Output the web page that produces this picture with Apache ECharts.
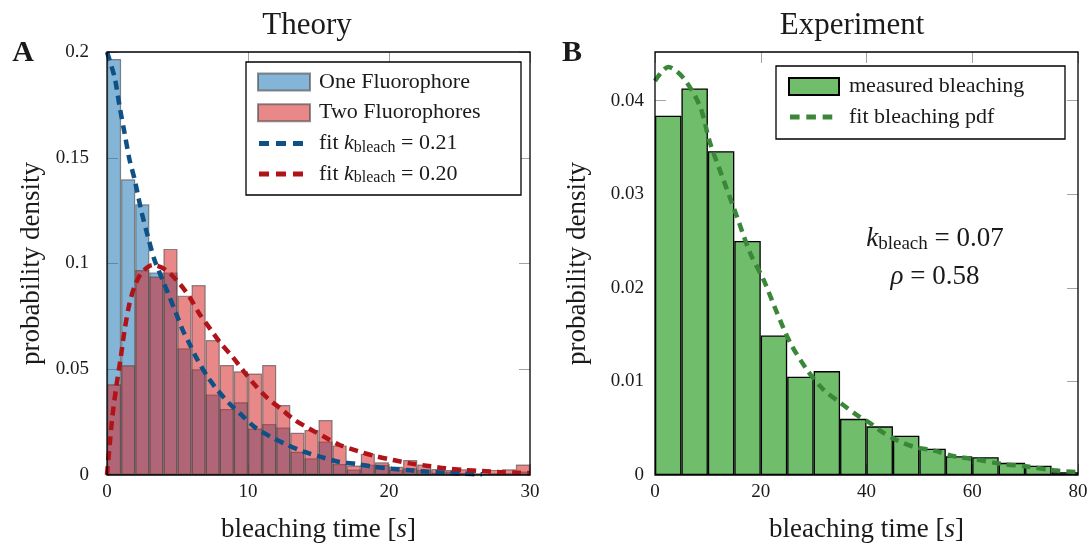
<!DOCTYPE html>
<html>
<head>
<meta charset="utf-8">
<script src="https://cdn.jsdelivr.net/npm/echarts@6/dist/echarts.min.js"></script>
<style>
  html, body { margin: 0; padding: 0; background: #fff; }
  #chart { width: 1091px; height: 543px; }
</style>
</head>
<body>
<div id="chart"></div>
<script>
const FONT = "'Liberation Serif', 'DejaVu Serif', serif";

// ---- Theory (panel A) ----
const theoryBins = ['0','1','2','3','4','5','6','7','8','9','10','11','12','13','14',
  '15','16','17','18','19','20','21','22','23','24','25','26','27','28','29'];
const oneFluor = [0.1967, 0.1398, 0.128, 0.0958, 0.0958, 0.0599, 0.050, 0.0381, 0.0312, 0.0344,
  0.022, 0.0241, 0.0224, 0.011, 0.0079, 0.0158, 0.0052, 0.0026, 0.0048, 0.0048,
  0.0024, 0.0032, 0.0024, 0.0011, 0.0016, 0.001, 0.0005, 0.0008, 0.0008, 0.0016];
const twoFluor = [0.0429, 0.0519, 0.0969, 0.0938, 0.1069, 0.0848, 0.0898, 0.0638, 0.052, 0.049,
  0.048, 0.052, 0.0331, 0.020, 0.0213, 0.026, 0.014, 0.0045, 0.0100, 0.006,
  0.0039, 0.0071, 0.005, 0.0028, 0.0024, 0.0027, 0.0008, 0.0024, 0.0027, 0.005];
const fitOne = [[0,0.2],[0.54,0.188],[0.9,0.174],[1.25,0.1615],[1.6,0.149],[1.95,0.140],
  [2.43,0.125],[2.9,0.1127],[3.37,0.1017],[3.96,0.092],[4.43,0.0843],[4.9,0.0764],
  [5.37,0.0685],[5.84,0.0622],[6.42,0.0544],[7.13,0.0465],[7.83,0.0402],[8.66,0.0339],
  [9.6,0.028],[10.5,0.0225],[11.6,0.0181],[12.8,0.0142],[13.95,0.011],[15.1,0.0087],
  [16.4,0.0063],[17.7,0.0052],[18.9,0.0039],[20.2,0.003],[21.5,0.0022],[22.7,0.0016],
  [24.0,0.0011],[25.3,0.0006],[26.6,0.0003]];
const fitTwo = [[0,0],[0.19,0.0142],[0.38,0.0276],[0.66,0.0418],[0.95,0.0544],[1.25,0.0686],
  [1.6,0.0812],[1.95,0.089],[2.43,0.0954],[3.25,0.0993],[4.19,0.0969],[5.13,0.0906],
  [5.84,0.0843],[6.54,0.0764],[7.37,0.0686],[8.07,0.0622],[8.9,0.0559],[9.7,0.049],
  [10.4,0.0433],[11.4,0.0362],[12.3,0.0315],[13.25,0.0263],[14.3,0.0221],[15.4,0.0181],
  [16.5,0.0142],[17.8,0.0113],[19.0,0.009],[20.3,0.0071],[21.5,0.0055],[22.8,0.0043],
  [24.0,0.0032],[25.3,0.0024],[26.6,0.0019],[27.8,0.0014],[29.0,0.0011],[30,0.0009]];
const theoryXTicks = [0, 10, 20, 30];
const theoryYTicks = [0, 0.05, 0.1, 0.15, 0.2];

// ---- Experiment (panel B) ----
const expBins = ['0','5','10','15','20','25','30','35','40','45','50','55','60','65','70','75'];
const measured = [0.0384, 0.0413, 0.0346, 0.025, 0.0149, 0.0105, 0.0111, 0.006,
  0.0052, 0.0042, 0.0028, 0.002, 0.0019, 0.0013, 0.001, 0.0003];
const fitPdf = [[0,0.0421],[2.5,0.0436],[5.4,0.0424],[8.5,0.0394],[10.4,0.0355],[12.9,0.0316],
  [15.5,0.0276],[18,0.0237],[20.5,0.0209],[23.1,0.0173],[25.6,0.0141],[28.8,0.0112],
  [31.9,0.0091],[35.1,0.0077],[38.2,0.0064],[40.8,0.0055],[42.7,0.0047],[45.8,0.0037],
  [49,0.003],[52.8,0.0026],[56.6,0.002],[60.3,0.0017],[65.4,0.0012],[70.5,0.0009],
  [75.5,0.0005],[80,0.0003]];
const expXTicks = [0, 20, 40, 60, 80];
const expYTicks = [0, 0.01, 0.02, 0.03, 0.04];
const expYMax = 0.0452;

const fitOneName = 'fit k_bleach = 0.21';
const fitTwoName = 'fit k_bleach = 0.20';

const PLOT = 423;     // plot box side in px
const TICK_LEN = 11;  // tick length in px
const TICK_COLOR = '#a3a3a3';
const dashIcon = 'path://M0,0L0,0M1,6L11,6L11,11L1,11ZM18,6L28,6L28,11L18,11ZM35,6L45,6L45,11L35,11ZM52,17L52,17';

const chart = echarts.init(document.getElementById('chart'));

function ticks() {
  return { show: true, inside: true, length: TICK_LEN, lineStyle: { color: TICK_COLOR, width: 1 } };
}
function labels(margin) {
  return { show: true, color: '#1a1a1a', fontFamily: FONT, fontSize: 19, margin: margin,
    showMinLabel: true, showMaxLabel: true };
}
const nameStyle = {
  color: '#1a1a1a', fontFamily: FONT, fontSize: 27,
  rich: { i: { fontFamily: FONT, fontSize: 27, fontStyle: 'italic', color: '#1a1a1a' } }
};

function valAxis(extra) {
  return Object.assign({
    type: 'value',
    axisLine: { show: false },
    axisTick: ticks(),
    axisLabel: { show: false },
    splitLine: { show: false }
  }, extra);
}

// inward y ticks on both sides of a plot, as short segments in data coordinates
function yTickSeries(xAxisIndex, yAxisIndex, xTicks, yTicks) {
  const x0 = xTicks[0], x1 = xTicks[xTicks.length - 1];
  const len = TICK_LEN * (x1 - x0) / PLOT;
  const segs = [];
  yTicks.slice(1).forEach(function (v) {
    segs.push([{ coord: [x0, v] }, { coord: [x0 + len, v] }]);
    segs.push([{ coord: [x1 - len, v] }, { coord: [x1, v] }]);
  });
  return {
    type: 'line', name: 'yticks' + yAxisIndex, xAxisIndex: xAxisIndex, yAxisIndex: yAxisIndex,
    data: [], z: 1, silent: true,
    markLine: {
      silent: true, z: 1, animation: false, symbol: ['none', 'none'],
      label: { show: false }, emphasis: { disabled: true },
      lineStyle: { color: TICK_COLOR, width: 1, type: 'solid' },
      data: segs
    }
  };
}

const legendRich = {
  t: { fontFamily: FONT, fontSize: 22, lineHeight: 24, color: '#1a1a1a' },
  k: { fontFamily: FONT, fontSize: 22, lineHeight: 24, fontStyle: 'italic', color: '#1a1a1a' },
  s: { fontFamily: FONT, fontSize: 16, lineHeight: 15, verticalAlign: 'bottom', color: '#1a1a1a' }
};
const legendText = {
  fontFamily: FONT, fontSize: 22, lineHeight: 24, color: '#1a1a1a',
  padding: [0, 0, 0, 4], rich: legendRich
};

function txt(text, x, y, font, rich) {
  return {
    type: 'text', x: x, y: y, z: 20,
    style: {
      text: text, font: font, fill: '#1a1a1a', rich: rich,
      align: 'center', verticalAlign: 'middle', textAlign: 'center', textVerticalAlign: 'middle'
    }
  };
}

const annotRich = {
  k: { fontFamily: FONT, fontSize: 27, lineHeight: 30, fontStyle: 'italic', color: '#1a1a1a' },
  s: { fontFamily: FONT, fontSize: 19, lineHeight: 19, verticalAlign: 'bottom', color: '#1a1a1a' },
  t: { fontFamily: FONT, fontSize: 27, lineHeight: 30, color: '#1a1a1a' }
};

const tInt = theoryYTicks[1] - theoryYTicks[0];
const tMax = theoryYTicks[theoryYTicks.length - 1];
const eInt = expYTicks[1] - expYTicks[0];

chart.setOption({
  animation: false,
  grid: [
    { left: 107, top: 52, width: PLOT, height: PLOT, show: true, z: 10, outerBoundsMode: 'none',
      containLabel: false, borderColor: '#000', borderWidth: 1.3, backgroundColor: 'transparent' },
    { left: 655, top: 52, width: PLOT, height: PLOT, show: true, z: 10, outerBoundsMode: 'none',
      containLabel: false, borderColor: '#000', borderWidth: 1.3, backgroundColor: 'transparent' }
  ],
  xAxis: [
    valAxis({
      gridIndex: 0, position: 'bottom',
      min: theoryXTicks[0], max: theoryXTicks[theoryXTicks.length - 1],
      interval: theoryXTicks[1] - theoryXTicks[0],
      axisLabel: labels(8),
      name: 'bleaching time [{i|s}]', nameLocation: 'middle', nameGap: 41, nameTextStyle: nameStyle
    }),
    { gridIndex: 0, type: 'category', data: theoryBins, show: false, position: 'bottom', boundaryGap: true },
    valAxis({
      gridIndex: 0, position: 'top',
      min: theoryXTicks[0], max: theoryXTicks[theoryXTicks.length - 1],
      interval: theoryXTicks[1] - theoryXTicks[0]
    }),
    valAxis({
      gridIndex: 1, position: 'bottom',
      min: expXTicks[0], max: expXTicks[expXTicks.length - 1],
      interval: expXTicks[1] - expXTicks[0],
      axisLabel: labels(8),
      name: 'bleaching time [{i|s}]', nameLocation: 'middle', nameGap: 41, nameTextStyle: nameStyle
    }),
    { gridIndex: 1, type: 'category', data: expBins, show: false, position: 'bottom', boundaryGap: true },
    valAxis({
      gridIndex: 1, position: 'top',
      min: expXTicks[0], max: expXTicks[expXTicks.length - 1],
      interval: expXTicks[1] - expXTicks[0]
    })
  ],
  yAxis: [
    valAxis({
      gridIndex: 0, position: 'left', min: theoryYTicks[0], max: tMax, interval: tInt,
      axisTick: { show: false },
      axisLabel: labels(18),
      name: 'probability density', nameLocation: 'middle', nameGap: 62, nameTextStyle: nameStyle
    }),
    valAxis({
      gridIndex: 1, position: 'left', min: expYTicks[0], max: expYMax, interval: eInt,
      axisTick: { show: false },
      axisLabel: Object.assign(labels(11), { showMaxLabel: false }),
      name: 'probability density', nameLocation: 'middle', nameGap: 64, nameTextStyle: nameStyle
    })
  ],
  legend: [
    {
      orient: 'vertical', left: 257, top: 70, padding: 0, z: 20,
      itemWidth: 52, itemHeight: 17, itemGap: 6.7, selectedMode: false,
      textStyle: legendText,
      data: [
        { name: 'One Fluorophore', icon: 'rect' },
        { name: 'Two Fluorophores', icon: 'rect' },
        { name: fitOneName, icon: dashIcon, itemStyle: { color: '#0f5087', borderWidth: 0 } },
        { name: fitTwoName, icon: dashIcon, itemStyle: { color: '#b01419', borderWidth: 0 } }
      ],
      formatter: function (name) {
        if (name === fitOneName) return '{t|fit }{k|k}{s|bleach}{t| = 0.21}';
        if (name === fitTwoName) return '{t|fit }{k|k}{s|bleach}{t| = 0.20}';
        return name;
      }
    },
    {
      orient: 'vertical', left: 788, top: 74.5, padding: 0, z: 20,
      itemWidth: 50, itemHeight: 17, itemGap: 6.5, selectedMode: false,
      textStyle: Object.assign({}, legendText, { padding: [0, 0, 0, 5] }),
      data: [
        { name: 'measured bleaching', icon: 'rect' },
        { name: 'fit bleaching pdf', icon: dashIcon, itemStyle: { color: '#3a873a', borderWidth: 0 } }
      ]
    }
  ],
  graphic: [
    { type: 'rect', z: 15, shape: { x: 246, y: 62, width: 275, height: 133 },
      style: { fill: '#fff', stroke: '#000', lineWidth: 1.3 } },
    { type: 'rect', z: 15, shape: { x: 776, y: 66, width: 289, height: 73 },
      style: { fill: '#fff', stroke: '#000', lineWidth: 1.3 } },
    txt('Theory', 307, 26, '31px ' + FONT),
    txt('Experiment', 852, 26, '31px ' + FONT),
    txt('A', 23, 53, 'bold 30px ' + FONT),
    txt('B', 572, 53, 'bold 30px ' + FONT),
    txt('{k|k}{s|bleach}{t| = 0.07}', 935, 239, '27px ' + FONT, annotRich),
    txt('{k|ρ}{t| = 0.58}', 935, 277, '27px ' + FONT, annotRich)
  ],
  series: [
    yTickSeries(0, 0, theoryXTicks, theoryYTicks),
    yTickSeries(3, 1, expXTicks, expYTicks),
    {
      name: 'One Fluorophore', type: 'bar', xAxisIndex: 1, yAxisIndex: 0,
      data: oneFluor, barCategoryGap: '0%', barGap: '-100%', z: 2,
      itemStyle: { color: 'rgba(31,119,180,0.55)', borderColor: 'rgba(70,70,70,0.6)', borderWidth: 1.2 },
      emphasis: { disabled: true }
    },
    {
      name: 'Two Fluorophores', type: 'bar', xAxisIndex: 1, yAxisIndex: 0,
      data: twoFluor, barCategoryGap: '0%', barGap: '-100%', z: 2,
      itemStyle: { color: 'rgba(214,39,40,0.55)', borderColor: 'rgba(70,70,70,0.6)', borderWidth: 1.2 },
      emphasis: { disabled: true }
    },
    {
      name: fitOneName, type: 'line', xAxisIndex: 0, yAxisIndex: 0,
      data: fitOne, symbol: 'none', smooth: 0.3, z: 3, color: '#0f5087',
      lineStyle: { color: '#0f5087', width: 4.5, type: [9, 6] },
      emphasis: { disabled: true }
    },
    {
      name: fitTwoName, type: 'line', xAxisIndex: 0, yAxisIndex: 0,
      data: fitTwo, symbol: 'none', smooth: 0.3, z: 3, color: '#b01419',
      lineStyle: { color: '#b01419', width: 4.5, type: [9, 6] },
      emphasis: { disabled: true }
    },
    {
      name: 'measured bleaching', type: 'bar', xAxisIndex: 4, yAxisIndex: 1,
      data: measured, barCategoryGap: '0%', z: 2,
      itemStyle: { color: '#70be6c', borderColor: '#000', borderWidth: 1.3 },
      emphasis: { disabled: true }
    },
    {
      name: 'fit bleaching pdf', type: 'line', xAxisIndex: 3, yAxisIndex: 1,
      data: fitPdf, symbol: 'none', smooth: 0.3, z: 3, color: '#3a873a',
      lineStyle: { color: '#3a873a', width: 4.5, type: [9, 6] },
      emphasis: { disabled: true }
    }
  ]
});
</script>
</body>
</html>
